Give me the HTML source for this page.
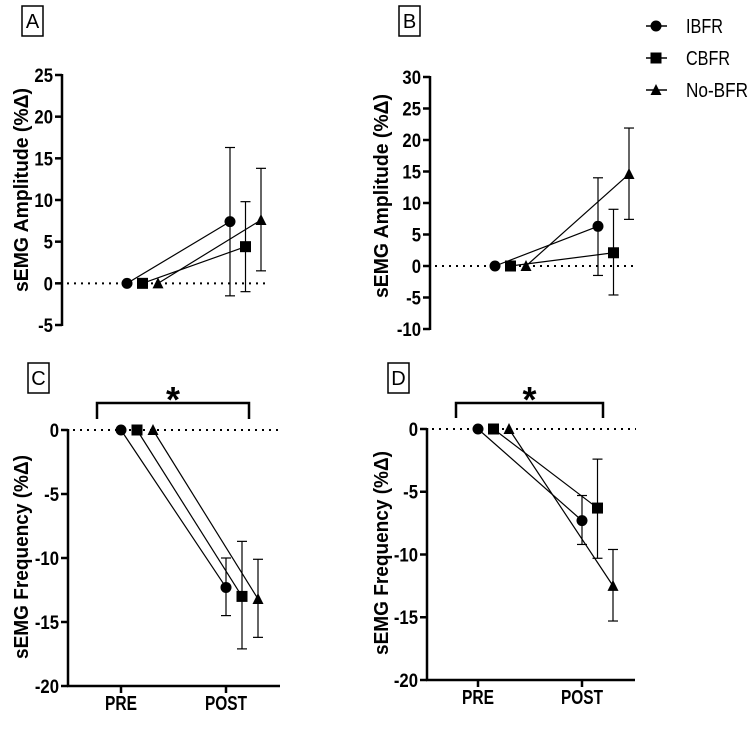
<!DOCTYPE html>
<html><head><meta charset="utf-8"><style>
body{margin:0;background:#fff}
svg{display:block;font-family:"Liberation Sans",Arial,sans-serif}
</style></head><body>
<svg id="c" width="753" height="733" xmlns="http://www.w3.org/2000/svg"></svg>
<script>
const groups=["IBFR","CBFR","No-BFR"];
const markers=["circle","square","triangle"];
// Panel A
const aPost=[7.4,4.4,7.6];
const aLo=[-1.5,-1.0,1.5];
const aHi=[16.3,9.8,13.8];
const aTicks=[25,20,15,10,5,0,-5];
// Panel B
const bPost=[6.3,2.1,14.6];
const bLo=[-1.5,-4.6,7.4];
const bHi=[14.0,9.0,21.9];
const bTicks=[30,25,20,15,10,5,0,-5,-10];
// Panel C
const cPost=[-12.3,-13.0,-13.2];
const cLo=[-14.5,-17.1,-16.2];
const cHi=[-10.0,-8.7,-10.1];
const cTicks=[0,-5,-10,-15,-20];
// Panel D
const dPost=[-7.3,-6.3,-12.5];
const dLo=[-9.2,-10.3,-15.3];
const dHi=[-5.3,-2.4,-9.6];
const dTicks=[0,-5,-10,-15,-20];
const preVals=[0,0,0];
const xCats=["PRE","POST"];

const svg=document.getElementById('c');
const NS="http://www.w3.org/2000/svg";
function mk(t,a,p){const e=document.createElementNS(NS,t);for(const k in a)e.setAttribute(k,a[k]);(p||svg).appendChild(e);return e;}
function marker(kind,x,y,g){
  let e;
  if(kind==="circle")e=mk('circle',{cx:x,cy:y,r:5.5,fill:'#000'},g);
  else if(kind==="square")e=mk('rect',{x:x-5.5,y:y-5.5,width:11,height:11,fill:'#000'},g);
  else e=mk('polygon',{points:`${x},${y-6} ${x-5.5},${y+5} ${x+5.5},${y+5}`,fill:'#000'},g);
  return e;
}
function panel(o){
  const g=mk('g',{});
  
  
  const ys=v=>o.y0+(o.max-v)*(o.y1-o.y0)/(o.max-o.min);
  const lb=mk('g',{},g);
  
  
  mk('rect',{x:o.box[0],y:o.box[1],width:21,height:30,fill:'none',stroke:'#000','stroke-width':1.5},lb);
  const lt=mk('text',{x:o.box[0]+10.5,y:o.box[1]+22,'text-anchor':'middle','font-size':20},lb);lt.textContent=o.id;
  const ax=mk('line',{x1:o.ax,x2:o.ax,y1:ys(o.max)-1,y2:ys(o.min)+1,stroke:'#000','stroke-width':2.5},g);
  
  
  o.ticks.forEach(t=>{
    mk('line',{x1:o.ax-7,x2:o.ax,y1:ys(t),y2:ys(t),stroke:'#000','stroke-width':2.5},g);
    const tx=mk('text',{x:o.ax-9,y:ys(t)+7,'text-anchor':'end','font-size':19,'font-weight':'bold',transform:`translate(${o.ax-9},0) scale(0.88,1) translate(${-(o.ax-9)},0)`},g);
    tx.textContent=t;
    
    
  });
  const yt=mk('text',{x:0,y:0,'text-anchor':'middle','font-size':20,'font-weight':'bold',textLength:204,lengthAdjust:'spacingAndGlyphs',transform:`translate(${o.titleX},${o.titleY}) rotate(-90)`},g);
  yt.textContent=o.title;
  
  
  mk('line',{x1:o.ax+5,x2:o.dotEnd,y1:ys(0),y2:ys(0),stroke:'#000','stroke-width':2,'stroke-dasharray':'2,5'},g);
  if(o.xaxis){
    const xl=mk('line',{x1:o.ax-1,x2:o.xEnd,y1:ys(o.min),y2:ys(o.min),stroke:'#000','stroke-width':2.5},g);
    
    
    [o.pre,o.post].forEach((x,i)=>{
      mk('line',{x1:x,x2:x,y1:ys(o.min),y2:ys(o.min)+7,stroke:'#000','stroke-width':2.5},g);
      const tx=mk('text',{x:x,y:ys(o.min)+24,'text-anchor':'middle','font-size':20,'font-weight':'bold',textLength:i?42:32,lengthAdjust:'spacingAndGlyphs'},g);
      tx.textContent=xCats[i];
      
      
    });
  }
  if(o.bracket){
    const b=o.bracket;
    const bg=mk('g',{},g);
    
    
    mk('polyline',{points:`${b[0]},${b[3]} ${b[0]},${b[2]} ${b[1]},${b[2]} ${b[1]},${b[3]}`,fill:'none',stroke:'#000','stroke-width':2.5},bg);
    const st=mk('text',{x:(b[0]+b[1])/2,y:b[2]+9,'text-anchor':'middle','font-size':36,'font-weight':'bold'},bg);st.textContent='*';
  }
  groups.forEach((gname,i)=>{
    const sg=mk('g',{},g);
    
    
    const xp=o.pre+i*o.off, xq=o.post+i*o.off;
    mk('line',{x1:xp,y1:ys(preVals[i]),x2:xq,y2:ys(o.post_[i]),stroke:'#000','stroke-width':1.2},sg);
    mk('line',{x1:xq,x2:xq,y1:ys(o.hi[i]),y2:ys(o.lo[i]),stroke:'#000','stroke-width':1.2},sg);
    [o.hi[i],o.lo[i]].forEach(v=>mk('line',{x1:xq-5,x2:xq+5,y1:ys(v),y2:ys(v),stroke:'#000','stroke-width':1.2},sg));
    marker(markers[i],xp,ys(preVals[i]),sg);
    marker(markers[i],xq,ys(o.post_[i]),sg);
  });
}
panel({id:'A',max:25,min:-5,y0:75,y1:325,ax:62,ticks:aTicks,title:'sEMG Amplitude (%Δ)',titleX:28,titleY:190,
  dotEnd:266,pre:127,post:230,off:15.5,post_:aPost,lo:aLo,hi:aHi,box:[22,6]});
panel({id:'B',max:30,min:-10,y0:77,y1:329,ax:430,ticks:bTicks,title:'sEMG Amplitude (%Δ)',titleX:388,titleY:196,
  dotEnd:636,pre:495,post:598,off:15.5,post_:bPost,lo:bLo,hi:bHi,box:[399,6]});
panel({id:'C',max:0,min:-20,y0:430,y1:686,ax:68,ticks:cTicks,title:'sEMG Frequency (%Δ)',titleX:28,titleY:557,
  dotEnd:280,pre:121,post:226,off:16,post_:cPost,lo:cLo,hi:cHi,box:[28,363],xaxis:true,xEnd:280,bracket:[97,249,403,419]});
panel({id:'D',max:0,min:-20,y0:429,y1:680,ax:427,ticks:dTicks,title:'sEMG Frequency (%Δ)',titleX:388,titleY:553,
  dotEnd:636,pre:478,post:582,off:15.5,post_:dPost,lo:dLo,hi:dHi,box:[388,363],xaxis:true,xEnd:635,bracket:[456,603,403,418]});
const lg=mk('g',{});


const legW=[37,44,62];
[26,58,90].forEach((y,i)=>{
  const e=mk('g',{},lg);
  
  
  mk('line',{x1:646,x2:667,y1:y,y2:y,stroke:'#000','stroke-width':1.5},e);
  marker(markers[i],656,y,e);
  const t=mk('text',{x:686,y:y+7,'font-size':20,textLength:legW[i],lengthAdjust:'spacingAndGlyphs'},e);t.textContent=groups[i];
});
</script>
</body></html>
